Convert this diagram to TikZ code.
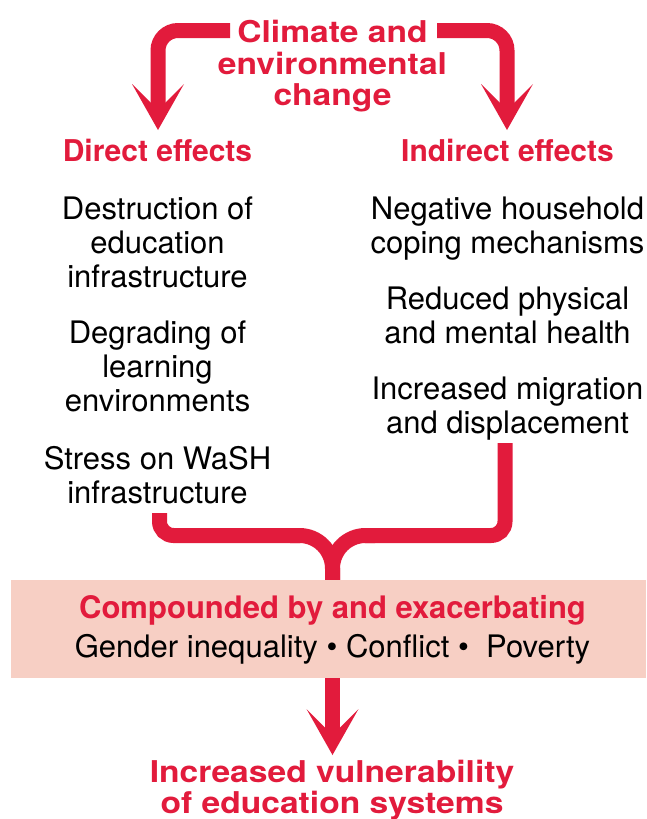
\documentclass[tikz,border=0pt]{standalone}
\usepackage{fontspec}
\setmainfont{TeX Gyre Heros}
\newfontfamily\widefont[FakeStretch=1.12]{TeX Gyre Heros}
\definecolor{crim}{HTML}{E21B3C}
\definecolor{pinkbg}{HTML}{F7CFC4}
\tikzset{
  flow/.style={draw=crim, line width=15pt},
  bodytext/.style={font=\fontsize{31}{34}\selectfont, align=center, inner sep=0pt, anchor=north},
  subhead/.style={text=crim, font=\bfseries\fontsize{30}{32}\selectfont, inner sep=0pt, anchor=base},
  bigtitle/.style={text=crim, font=\widefont\bfseries\fontsize{30}{31.5}\selectfont, align=center, inner sep=0pt, anchor=north},
  headdown/.pic={\fill[crim] (0,0) -- (-26,-46) -- (-7.5,-27.5) -- (7.5,-27.5) -- (26,-46) -- cycle;}
}
\begin{document}
\begin{tikzpicture}[x=1pt,y=-1pt]
\fill[white] (0,0) rectangle (646,819);
\useasboundingbox (0,0) rectangle (646,819);

% title
\node[bigtitle] (title) at (332.5,20) {Climate and\\environmental\\change};

% headings
\node[subhead] (direct) at (157.5,161.7) {Direct effects};
\node[subhead] (indirect) at (507.5,161.7) {Indirect effects};

% left column
\node[bodytext] (l1) at (157.5,196.5) {Destruction of\\education\\infrastructure};
\node[bodytext] (l2) at (157.5,320.5) {Degrading of\\learning\\environments};
\node[bodytext] (l3) at (157.5,446.5) {Stress on WaSH\\infrastructure};

% right column
\node[bodytext] (r1) at (507.5,196.5) {Negative household\\coping mechanisms};
\node[bodytext] (r2) at (507.5,286.5) {Reduced physical\\and mental health};
\node[bodytext] (r3) at (507.5,376.5) {Increased migration\\and displacement};

% compounding box
\node[fill=pinkbg, minimum width=635pt, minimum height=98pt, inner sep=0pt] (box) at (328.5,629) {};
\node[subhead, font=\bfseries\fontsize{31}{34}\selectfont] (cb1) at (332.5,618) {Compounded by and exacerbating};
\node[inner sep=0pt, anchor=base, font=\fontsize{31}{34}\selectfont] (cb2) at (332.5,657) {Gender inequality • Conflict • \ Poverty};

% result
\node[bigtitle, font=\widefont\bfseries\fontsize{30}{31}\selectfont] (result) at (332,759.5) {Increased vulnerability\\of education systems};

% top arrows
\coordinate (barL) at (230,30.5);
\coordinate (barR) at (437,30.5);
\coordinate (ltip) at (158,130);
\coordinate (rtip) at (507,130);
\draw[flow, rounded corners=20pt] (barL) -| ([yshift=25pt]ltip);
\draw[flow, rounded corners=20pt] (barR) -| ([yshift=25pt]rtip);
\pic at (ltip) {headdown};
\pic at (rtip) {headdown};

% merging brace
\coordinate (ls) at (159.5,513);
\coordinate (rs) at (505,443);
\coordinate (mj) at (332.5,535.5);
\draw[flow, rounded corners=14pt] (ls) |- (300,535.5);
\draw[flow, rounded corners=14pt] (rs) |- (365,535.5);
\draw[flow, rounded corners=33pt] (290,535.5) -| (mj |- box.north);
\draw[flow, rounded corners=33pt] (375,535.5) -| (mj |- box.north);

% bottom arrow
\coordinate (btip) at (332.5,755);
\draw[flow] (mj |- box.south) -- ([yshift=25pt]btip);
\pic at (btip) {headdown};
\end{tikzpicture}
\end{document}
